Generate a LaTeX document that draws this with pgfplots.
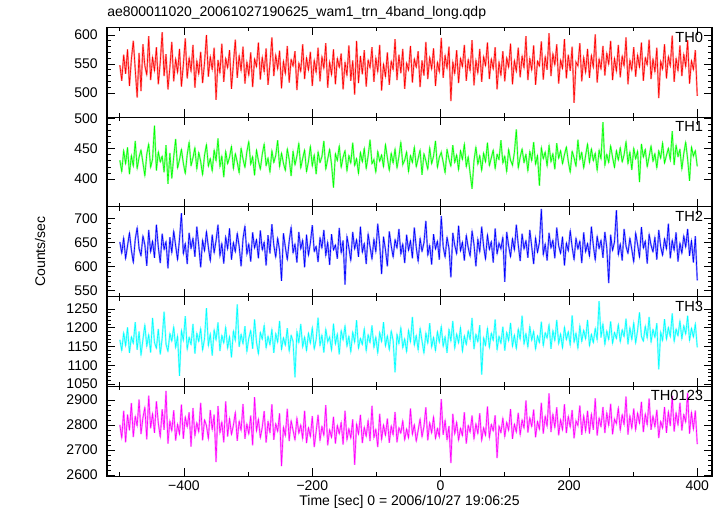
\documentclass[border=0pt]{standalone}
\usepackage{fontspec}
\setmainfont{Liberation Sans}
\usepackage{pgfplots}
\usepackage{pgfplotstable}
\pgfplotsset{compat=1.18}
\definecolor{cR}{RGB}{255,0,0}
\definecolor{cG}{RGB}{0,255,0}
\definecolor{cB}{RGB}{0,0,255}
\definecolor{cC}{RGB}{0,255,255}
\definecolor{cM}{RGB}{255,0,255}
\definecolor{eR}{RGB}{255,150,150}
\definecolor{eG}{RGB}{150,255,150}
\definecolor{eB}{RGB}{150,150,255}
\definecolor{eC}{RGB}{150,255,255}
\definecolor{eM}{RGB}{255,150,255}
\pgfplotstableread{
t a b c d e
-500 548 431 652 1168 2801
-497 521 412 628 1139 2748
-494 566 447 661 1187 2857
-491 533 425 617 1152 2731
-488 575 452 644 1201 2842
-485 512 408 671 1133 2779
-482 558 439 635 1176 2888
-479 590 421 609 1158 2752
-476 541 463 657 1215 2835
-473 492 417 682 1141 2796
-470 569 436 638 1190 2902
-467 503 448 623 1127 2764
-464 584 427 665 1169 2829
-461 547 405 646 1208 2871
-458 531 441 602 1150 2743
-455 598 458 677 1182 2918
-452 522 419 631 1134 2787
-449 562 433 654 1226 2846
-446 538 488 619 1161 2769
-443 579 414 688 1145 2895
-440 515 445 641 1197 2808
-437 553 428 608 1129 2752
-434 605 438 669 1172 2863
-431 529 411 636 1243 2781
-428 567 456 653 1156 2937
-425 506 392 597 1137 2726
-422 544 443 662 1185 2817
-419 588 401 629 1164 2776
-416 520 437 675 1203 2859
-413 559 466 644 1147 2738
-410 535 418 615 1178 2804
-407 576 432 658 1072 2763
-404 511 449 712 1193 2882
-401 549 426 627 1166 2745
-398 594 409 649 1231 2833
-395 525 440 606 1142 2792
-392 561 461 671 1175 2851
-389 537 422 638 1155 2714
-386 583 435 660 1210 2868
-383 509 452 621 1131 2756
-380 556 416 684 1186 2810
-377 532 444 645 1163 2772
-374 571 429 599 1198 2889
-371 517 407 656 1140 2739
-368 552 439 633 1171 2821
-365 600 457 674 1252 2798
-362 528 421 641 1152 2745
-359 563 434 612 1184 2860
-356 540 413 667 1126 2781
-353 578 448 629 1195 2842
-350 488 430 655 1167 2652
-347 557 467 688 1214 2876
-344 534 420 622 1138 2768
-341 585 438 649 1180 2813
-338 519 403 607 1159 2731
-335 560 446 663 1202 2895
-332 543 425 637 1145 2754
-329 574 436 680 1177 2827
-326 507 454 615 1121 2762
-323 551 417 651 1191 2799
-320 592 442 631 1166 2851
-317 526 428 670 1262 2737
-314 565 410 643 1149 2816
-311 538 451 601 1183 2778
-308 580 433 659 1157 2884
-305 516 419 685 1204 2745
-302 554 445 626 1136 2805
-299 530 462 648 1172 2763
-296 570 424 611 1193 2838
-293 510 437 672 1144 2719
-290 559 406 639 1222 2912
-287 545 448 657 1162 2776
-284 587 430 618 1130 2824
-281 523 416 676 1188 2749
-278 562 441 635 1169 2791
-275 536 458 652 1207 2856
-272 577 422 603 1146 2730
-269 514 435 666 1178 2815
-266 550 411 628 1154 2769
-263 596 447 689 1196 2883
-260 529 427 645 1133 2741
-257 566 439 620 1185 2806
-254 541 464 660 1161 2774
-251 573 420 634 1218 2847
-248 508 443 571 1142 2636
-245 555 426 670 1174 2792
-242 533 414 641 1153 2757
-239 581 450 615 1199 2865
-236 518 432 654 1137 2736
-233 558 405 683 1180 2818
-230 546 446 629 1164 2779
-227 572 423 648 1068 2740
-224 505 438 609 1191 2829
-221 552 459 673 1160 2766
-218 537 418 637 1210 2801
-215 584 434 656 1148 2745
-212 524 448 599 1176 2857
-209 561 412 667 1139 2728
-206 539 429 624 1186 2790
-203 571 454 650 1158 2753
-200 512 421 687 1201 2836
-197 557 440 632 1143 2712
-194 535 408 643 1169 2774
-191 578 445 610 1227 2841
-188 520 427 661 1152 2738
-185 563 437 639 1181 2795
-182 542 463 677 1134 2758
-179 586 416 623 1197 2880
-176 509 433 652 1163 2719
-173 554 449 604 1175 2782
-170 531 424 668 1140 2750
-167 575 386 635 1211 2833
-164 515 442 646 1156 2726
-161 560 430 617 1184 2799
-158 544 455 681 1129 2764
-155 568 419 629 1193 2811
-152 506 436 655 1167 2722
-149 553 447 563 1206 2857
-146 530 413 664 1150 2740
-143 582 439 640 1178 2786
-140 521 426 613 1135 2747
-137 556 460 673 1189 2823
-134 497 422 637 1161 2641
-131 590 434 657 1220 2805
-128 517 409 621 1145 2763
-125 564 444 684 1172 2841
-122 532 428 630 1155 2728
-119 574 451 649 1198 2792
-116 511 417 606 1138 2754
-113 557 438 669 1182 2819
-110 543 465 642 1160 2736
-107 579 425 616 1206 2877
-104 519 432 658 1147 2749
-101 561 411 631 1176 2783
-98 536 446 690 1132 2712
-95 583 429 647 1188 2845
-92 504 440 585 1163 2741
-89 550 420 663 1215 2801
-86 528 457 636 1151 2758
-83 570 435 601 1179 2826
-80 514 414 674 1141 2729
-77 555 443 644 1192 2797
-74 540 426 620 1166 2760
-71 593 450 657 1081 2852
-68 522 418 639 1183 2731
-65 566 437 679 1157 2790
-62 534 461 626 1201 2767
-59 576 424 648 1146 2818
-56 507 431 608 1171 2740
-53 552 445 667 1136 2785
-50 539 412 634 1194 2748
-47 581 439 655 1162 2866
-44 518 427 618 1229 2762
-41 559 453 682 1153 2802
-38 544 420 641 1180 2735
-35 572 434 611 1140 2779
-32 510 448 660 1199 2825
-29 556 407 632 1165 2752
-26 530 442 650 1132 2794
-23 588 430 696 1187 2871
-20 524 416 624 1158 2739
-17 562 452 645 1212 2810
-14 541 425 605 1148 2768
-11 577 438 668 1175 2833
-8 512 463 637 1139 2746
-5 553 419 654 1190 2787
-2 536 436 615 1161 2752
1 595 444 706 1204 2904
4 526 428 642 1150 2761
7 565 410 620 1177 2819
10 542 449 662 1133 2741
13 580 433 639 1196 2796
16 486 421 578 1164 2648
19 554 456 671 1218 2845
22 533 427 645 1145 2764
25 574 440 627 1184 2812
28 517 415 686 1159 2739
31 560 447 633 1201 2788
34 545 432 652 1137 2757
37 583 458 613 1179 2851
40 521 420 666 1155 2726
43 558 437 640 1192 2799
46 538 409 622 1168 2771
49 591 384 675 1226 2838
52 513 430 647 1143 2744
55 557 453 601 1183 2806
58 534 424 658 1162 2765
61 576 439 631 1207 2847
64 519 414 684 1075 2738
67 563 443 643 1174 2790
70 547 428 616 1153 2758
73 587 460 667 1199 2874
76 524 422 636 1147 2749
79 559 435 653 1186 2803
82 541 448 609 1166 2776
85 579 417 680 1222 2839
88 506 441 627 1141 2668
91 554 432 649 1178 2797
94 530 464 638 1158 2769
97 572 426 662 1203 2828
100 520 438 569 1139 2753
103 561 412 673 1188 2812
106 544 449 644 1165 2778
109 585 431 621 1213 2864
112 515 423 659 1150 2745
115 556 444 635 1181 2804
118 537 482 688 1144 2771
121 578 418 646 1197 2849
124 527 436 612 1169 2760
127 564 450 669 1232 2821
130 543 427 637 1156 2787
133 598 441 655 1185 2898
136 522 413 619 1148 2770
139 560 446 677 1204 2830
142 539 430 642 1166 2793
145 582 461 606 1191 2862
148 514 424 661 1143 2751
151 555 439 630 1179 2815
154 546 389 651 1160 2782
157 589 452 721 1216 2889
160 523 433 625 1152 2766
163 563 445 648 1187 2836
166 540 421 613 1172 2794
169 603 456 671 1209 2927
172 529 428 639 1144 2772
175 568 442 656 1193 2844
178 548 416 618 1165 2789
181 584 459 682 1221 2871
184 516 434 644 1157 2759
187 557 447 628 1184 2822
190 542 425 663 1146 2780
193 593 440 603 1202 2883
196 525 453 650 1168 2768
199 566 429 633 1190 2835
202 538 411 676 1153 2791
205 580 446 641 1233 2860
208 483 435 615 1161 2747
211 553 421 660 1186 2816
214 547 465 637 1145 2799
217 586 432 654 1206 2878
220 520 444 608 1163 2761
223 562 418 672 1194 2838
226 535 439 631 1170 2775
229 576 458 649 1221 2857
232 526 427 622 1152 2766
235 565 450 684 1183 2844
238 544 430 645 1160 2781
241 601 443 614 1199 2907
244 518 414 664 1167 2758
247 559 448 638 1271 2829
250 541 433 656 1174 2793
253 581 494 619 1211 2872
256 530 422 673 1155 2768
259 569 441 640 1192 2850
262 549 427 566 1168 2797
265 590 455 667 1217 2885
268 522 436 634 1158 2763
271 560 419 652 1188 2823
274 537 447 718 1171 2806
277 583 431 625 1209 2869
280 527 452 648 1162 2779
283 564 428 613 1195 2842
286 546 440 679 1176 2801
289 596 462 643 1224 2914
292 515 425 628 1156 2762
295 557 445 660 1201 2838
298 539 415 636 1168 2786
301 579 451 610 1214 2866
304 528 433 671 1159 2780
307 566 446 647 1193 2849
310 544 395 620 1241 2806
313 587 458 683 1177 2893
316 521 436 639 1164 2772
319 561 449 654 1205 2845
322 548 420 607 1172 2800
325 592 437 668 1229 2906
328 524 455 645 1161 2781
331 559 429 631 1196 2837
334 536 442 662 1174 2792
337 578 418 615 1212 2861
340 491 447 677 1089 2748
343 555 434 642 1189 2815
346 541 460 624 1166 2787
349 584 426 659 1223 2872
352 525 439 637 1169 2769
355 563 451 690 1201 2854
358 546 431 618 1176 2796
361 599 479 656 1238 2917
364 519 423 634 1163 2774
367 560 456 672 1197 2850
370 538 437 611 1178 2799
373 582 449 650 1219 2889
376 529 416 628 1170 2778
379 567 442 665 1206 2843
382 545 461 641 1183 2811
385 591 433 679 1232 2929
388 516 397 623 1166 2766
391 556 453 655 1199 2851
394 540 438 609 1175 2783
397 574 447 664 1211 2858
400 495 421 572 1148 2724
}\data
\pgfplotsset{
  panel/.style={
    width=453.75pt, height=67.3pt, scale only axis, anchor=north west,
    xmin=-520, xmax=423,
    axis line style={line width=0.8pt},
    tick align=inside, xtick pos=both, ytick pos=both,
    major tick length=6pt, minor tick length=3pt,
    every tick/.style={black, line width=0.6pt},
    xtick={-400,-200,0,200,400}, minor xtick={-500,-300,-100,100,300},
    xticklabels={},
    minor y tick num=4,
    /pgf/number format/assume math mode=true,
    /pgf/number format/1000 sep={},
    yticklabel style={font=\fontsize{10.5}{12}\selectfont, xshift=-3.5pt},
    xticklabel style={font=\fontsize{10.5}{12}\selectfont},
  },
}
\tikzset{lab/.style={anchor=north east, font=\fontsize{11}{13}\selectfont, inner sep=0pt}}
\newcommand{\series}[3]{%
  \addplot[#3, line width=1.3pt, line join=miter, miter limit=4, forget plot] table[x=t, y=#1]{\data};
  \addplot[#2, line width=0.45pt] table[x=t, y=#1]{\data};
}
\begin{document}
\begin{tikzpicture}
\path[use as bounding box] (0pt,0pt) rectangle (542.25pt,-387pt);
\node[anchor=west, font=\fontsize{10.5}{12}\selectfont, inner sep=0pt] at (80.25pt,-9.75pt) {ae800011020\_20061027190625\_wam1\_trn\_4band\_long.qdp};
\node[rotate=90, font=\fontsize{10.5}{12}\selectfont] at (30pt,-188.6pt) {Counts/sec};

\begin{axis}[panel, at={(80.25pt,-20.625pt)}, ymin=458, ymax=613, ytick={500,550,600}]
\series{a}{cR}{eR}
\node[lab] at (rel axis cs:1,1) [xshift=-6.5pt, yshift=-3pt] {TH0};
\end{axis}

\begin{axis}[panel, at={(80.25pt,-87.9pt)}, ymin=354, ymax=502, ytick={400,450,500}]
\series{b}{cG}{eG}
\node[lab] at (rel axis cs:1,1) [xshift=-6.5pt, yshift=-3pt] {TH1};
\end{axis}

\begin{axis}[panel, at={(80.25pt,-155.175pt)}, ymin=538, ymax=725, ytick={550,600,650,700}]
\series{c}{cB}{eB}
\node[lab] at (rel axis cs:1,1) [xshift=-6.5pt, yshift=-3pt] {TH2};
\end{axis}

\begin{axis}[panel, at={(80.25pt,-222.45pt)}, ymin=1044, ymax=1283, ytick={1050,1100,1150,1200,1250}]
\series{d}{cC}{eC}
\node[lab] at (rel axis cs:1,1) [xshift=-6.5pt, yshift=-3pt] {TH3};
\end{axis}

\begin{axis}[panel, at={(80.25pt,-289.725pt)}, ymin=2596, ymax=2955, ytick={2600,2700,2800,2900},
  xticklabels={−400,−200,0,200,400},
  xlabel={Time [sec] 0 = 2006/10/27 19:06:25},
  xlabel style={font=\fontsize{10.5}{12}\selectfont, yshift=3pt}]
\series{e}{cM}{eM}
\node[lab] at (rel axis cs:1,1) [xshift=-6.5pt, yshift=-3pt] {TH0123};
\end{axis}
\end{tikzpicture}
\end{document}
